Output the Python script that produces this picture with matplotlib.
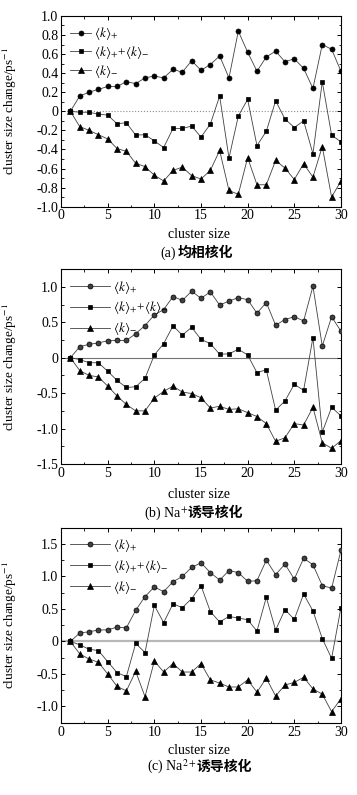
import numpy as np
import matplotlib
matplotlib.use("Agg")
import matplotlib.pyplot as plt
from matplotlib.ticker import MultipleLocator, FuncFormatter

# cluster sizes on the x axis
n = np.arange(1, 31)

# (a) homogeneous nucleation
a_plus = [0, 0.16, 0.20, 0.23, 0.26, 0.26, 0.31, 0.29, 0.35, 0.37,
          0.35, 0.44, 0.41, 0.53, 0.43, 0.49, 0.58, 0.35, 0.84, 0.62,
          0.42, 0.57, 0.63, 0.52, 0.55, 0.45, 0.24, 0.70, 0.65, 0.42]
a_sum = [0, -0.01, -0.01, -0.03, -0.04, -0.13, -0.12, -0.25, -0.245, -0.31,
         -0.38, -0.18, -0.18, -0.155, -0.27, -0.135, 0.16, -0.49, -0.05, 0.125,
         -0.36, -0.21, 0.11, -0.08, -0.17, -0.10, -0.445, 0.31, -0.25, -0.32]
a_minus = [0, -0.16, -0.20, -0.245, -0.29, -0.39, -0.42, -0.545, -0.58, -0.67,
           -0.73, -0.62, -0.585, -0.675, -0.71, -0.62, -0.41, -0.83, -0.87, -0.485,
           -0.77, -0.77, -0.515, -0.595, -0.715, -0.55, -0.69, -0.37, -0.90, -0.73]

# (b) Na+ induced nucleation
b_plus = [0, 0.155, 0.19, 0.21, 0.24, 0.245, 0.245, 0.34, 0.455, 0.605,
          0.68, 0.865, 0.81, 0.94, 0.84, 0.93, 0.745, 0.80, 0.85, 0.82,
          0.63, 0.78, 0.46, 0.54, 0.58, 0.52, 1.01, 0.165, 0.58, 0.375]
b_sum = [0, -0.025, -0.07, -0.07, -0.19, -0.32, -0.42, -0.41, -0.29, 0.04,
         0.20, 0.45, 0.32, 0.43, 0.26, 0.20, 0.05, 0.055, 0.12, 0.04,
         -0.21, -0.17, -0.74, -0.61, -0.375, -0.46, 0.285, -1.05, -0.70, -0.82]
b_minus = [0, -0.18, -0.25, -0.27, -0.40, -0.54, -0.66, -0.75, -0.75, -0.57,
           -0.475, -0.40, -0.485, -0.505, -0.565, -0.71, -0.685, -0.73, -0.72, -0.775,
           -0.83, -0.93, -1.18, -1.13, -0.93, -0.95, -0.70, -1.20, -1.28, -1.17]

# (c) Na2+ induced nucleation
c_plus = [0, 0.13, 0.15, 0.175, 0.18, 0.22, 0.21, 0.48, 0.69, 0.84,
          0.765, 0.92, 1.00, 1.14, 1.21, 1.06, 0.945, 1.09, 1.06, 0.925,
          0.935, 1.25, 1.03, 1.19, 0.96, 1.28, 1.18, 0.86, 0.82, 1.40]
c_sum = [0, -0.05, -0.12, -0.14, -0.31, -0.48, -0.54, -0.03, -0.17, 0.555,
         0.29, 0.58, 0.52, 0.66, 0.86, 0.46, 0.30, 0.385, 0.36, 0.335,
         0.16, 0.68, 0.175, 0.49, 0.34, 0.73, 0.47, 0.045, -0.26, 0.52]
c_minus = [0, -0.19, -0.27, -0.32, -0.50, -0.69, -0.76, -0.46, -0.85, -0.30,
           -0.47, -0.34, -0.47, -0.47, -0.34, -0.59, -0.64, -0.70, -0.70, -0.59,
           -0.78, -0.565, -0.84, -0.67, -0.63, -0.55, -0.73, -0.81, -1.08, -0.88]

# captions: serif prefix + chinese part
cap_prefix = ['(a)', '(b) Na$^{+}$', '(c) Na$^{2+}$']
cap_cn = ['均相核化', '诱导核化', '诱导核化']
labels = [r'$\langle k\rangle_{+}$',
          r'$\langle k\rangle_{+}$+$\langle k\rangle_{-}$',
          r'$\langle k\rangle_{-}$']

plt.rcParams['font.family'] = ['Liberation Serif', 'DejaVu Sans']
plt.rcParams['mathtext.fontset'] = 'stix'
plt.rcParams['axes.unicode_minus'] = False
plt.rcParams['font.size'] = 9.5

fig = plt.figure(figsize=(3.57, 7.95), dpi=100)

# axes boxes in figure fractions (left, bottom, width, height)
boxes = [[0.171, 0.740, 0.784, 0.240],
         [0.171, 0.4164, 0.784, 0.2449],
         [0.171, 0.0909, 0.784, 0.2453]]
ylims = [(-1.0, 1.0), (-1.5, 1.25), (-1.25, 1.75)]
ymajor = [0.2, 0.5, 0.5]
data = [(a_plus, a_sum, a_minus), (b_plus, b_sum, b_minus), (c_plus, c_sum, c_minus)]
zero_style = [dict(ls=':', lw=0.8, color='0.55'),
              dict(ls='-', lw=0.8, color='0.45'),
              dict(ls='-', lw=1.6, color='0.72')]
circle_face = ['black', '0.25', '0.25']
handle_len = [1.6, 3.0, 3.0]
leg_space = [0.15, 0.3, 0.3]
# caption and xlabel positions, pixels from top
xlabel_px = [234, 495, 751]
caption_px = [253, 513, 767]
# x where the chinese part of the caption starts (pixels), and gap
cap_split = [176, 188, 197]
cap_gap = [0.006, 0.0, 0.0]


def fmt(v, pos):
    if abs(v) < 1e-9:
        return '0'
    return f'{v:.1f}'


for i in range(3):
    ax = fig.add_axes(boxes[i])
    plus, tot, minus = data[i]
    ax.axhline(0, zorder=1, **zero_style[i])
    ax.plot(n, plus, '-o', color='0.25', lw=0.6, ms=3.6, mfc=circle_face[i],
            mec='black', mew=0.5, label=labels[0], zorder=3)
    ax.plot(n, tot, '-s', color='0.25', lw=0.6, ms=3.4, mfc='black',
            mec='black', mew=0.5, label=labels[1], zorder=3)
    ax.plot(n, minus, '-^', color='0.25', lw=0.6, ms=3.8, mfc='black',
            mec='black', mew=0.5, label=labels[2], zorder=3)

    ax.set_xlim(0, 30)
    ax.set_ylim(*ylims[i])
    ax.xaxis.set_major_locator(MultipleLocator(5))
    ax.xaxis.set_minor_locator(MultipleLocator(2.5))
    ax.yaxis.set_major_locator(MultipleLocator(ymajor[i]))
    ax.yaxis.set_minor_locator(MultipleLocator(ymajor[i] / 2))
    ax.yaxis.set_major_formatter(FuncFormatter(fmt))
    ax.tick_params(which='both', direction='in', top=True, right=True,
                   labelsize=10, pad=2)
    ax.tick_params(which='major', length=3, width=0.7)
    ax.tick_params(which='minor', length=1.8, width=0.6)
    for s in ax.spines.values():
        s.set_linewidth(0.8)

    ax.set_ylabel('cluster size change/ps$^{-1}$', fontsize=9.5)
    ax.yaxis.set_label_coords(-0.15, 0.5)

    ax.legend(loc='upper left', frameon=False, fontsize=9.5,
              handlelength=handle_len[i], handletextpad=0.2,
              labelspacing=leg_space[i], borderaxespad=0.3)

    fig.text(0.557, 1 - xlabel_px[i] / 795, 'cluster size', ha='center',
             va='center', fontsize=10)
    ycap = 1 - caption_px[i] / 795
    xs = cap_split[i] / 357
    fig.text(xs, ycap, cap_prefix[i], ha='right', va='center', fontsize=10)
    fig.text(xs + cap_gap[i], ycap, cap_cn[i], ha='left', va='center', fontsize=10,
             family='Noto Sans CJK SC', fontweight='bold')

fig.savefig('out.png', dpi=100)
